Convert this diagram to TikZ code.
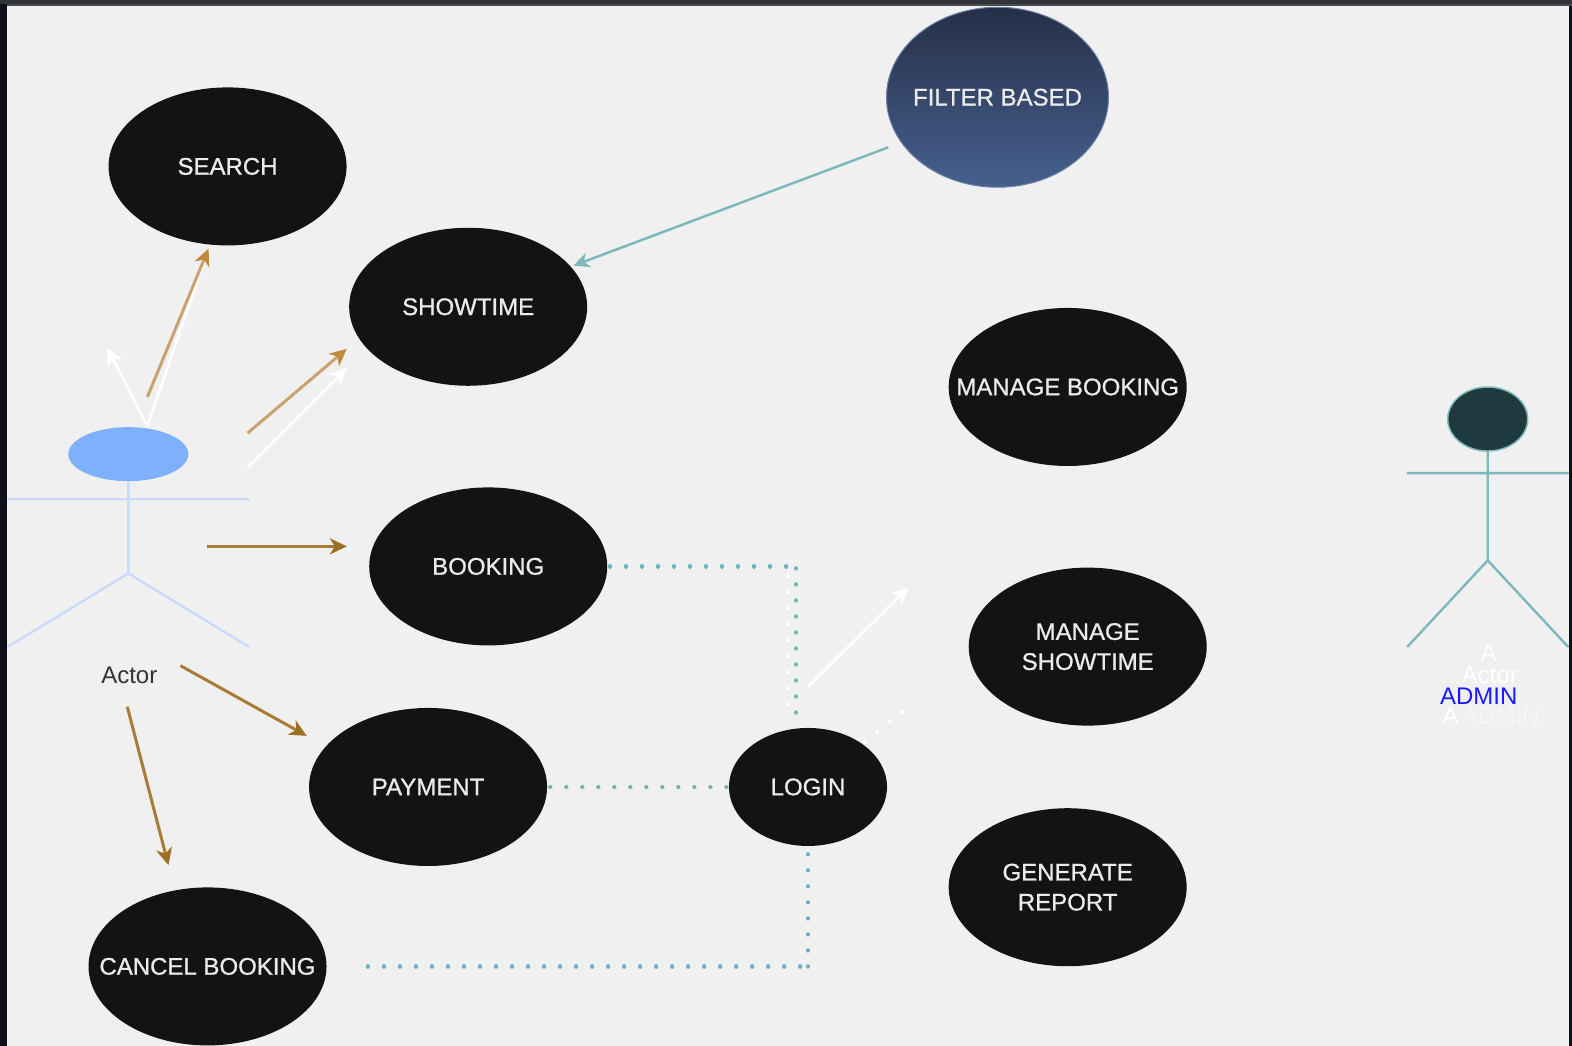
\documentclass[tikz,border=0pt]{standalone}
\usepackage{fontspec}
\setmainfont{Liberation Sans}
\usetikzlibrary{shapes.geometric,arrows.meta}
\definecolor{pagebg}{HTML}{F0F0F0}
\definecolor{darkedge}{HTML}{0D1117}
\definecolor{ucfill}{HTML}{131313}
\definecolor{tealline}{HTML}{7DB8BC}
\definecolor{tealdot}{HTML}{6FB3BA}
\definecolor{tanA}{HTML}{C9A36F}
\definecolor{tanAhead}{HTML}{BF8A3C}
\definecolor{tanB}{HTML}{A87C34}
\definecolor{tanBhead}{HTML}{9C6F22}
\definecolor{actorline}{HTML}{CADAFC}
\definecolor{actorheadc}{HTML}{7EB0FB}
\definecolor{adminheadc}{HTML}{1F3A3F}
\definecolor{filtertop}{HTML}{262F47}
\definecolor{filterbot}{HTML}{46608F}
\newfontfamily\ucfamily[BoldFont={Liberation Sans},BoldFeatures={FakeBold=0.9}]{Liberation Sans}
\begin{document}
\begin{tikzpicture}[x=1.0025pt,y=-1.0025pt,
  ucfont/.style={font=\fontsize{24}{30}\ucfamily\bfseries},
  usecase/.style={ellipse,fill=ucfill,text=white!92!black,inner ysep=0pt,inner xsep=-45pt,minimum width=238pt,minimum height=158pt,align=center,ucfont},
  teal arrow/.style={draw=tealline,line width=2.5pt,-{Stealth[length=16pt,width=15pt,inset=5pt]}},
  tan arrow/.style={line width=3pt,-{Stealth[length=17pt,width=16pt,inset=5pt]}},
  white arrow/.style={draw=white,line width=2.6pt,-{Stealth[length=17pt,width=16pt,inset=5pt]}},
  dotted teal/.style={draw=tealdot,line width=4.4pt,line cap=round,dash pattern=on 0.01pt off 16pt},
  dotted white/.style={draw=white,line width=4pt,line cap=round,dash pattern=on 0.01pt off 16pt},
  stick/.style={line width=2.4pt,line cap=round},
  ghost/.style={text=white,inner sep=0pt,font=\fontsize{24}{24}\selectfont}]
\useasboundingbox (0,0) rectangle (1568.08,1043.39);
\fill[pagebg] (0,0) rectangle (1568.08,1043.39);
\fill[darkedge] (0,0) rectangle (7,1043.39);
\fill[darkedge] (1565,0) rectangle (1568.08,1043.39);
\fill[darkedge!85!white] (0,0) rectangle (1568.08,4);
\fill[black!70!white] (7,4) rectangle (1568.08,6);

% actor
\draw[stick,actorline] (128,481) -- (128,572) (8,498) -- (248,498) (8,645) -- (128,572) -- (248,645);
\node[ellipse,fill=actorheadc,minimum width=120pt,minimum height=54pt,inner sep=0pt] (actorhead) at (128,453) {};
\node[inner sep=0pt,text=black!80,font=\fontsize{24}{24}\selectfont] (actorlabel) at (129,674) {Actor};

% admin
\draw[stick,tealline] (1484,450) -- (1484,559) (1404,472) -- (1564,472) (1404,645) -- (1484,559) -- (1564,645);
\node[ellipse,fill=adminheadc,draw=tealline,line width=1.5pt,minimum width=80pt,minimum height=64pt,inner sep=0pt] (adminhead) at (1484,418) {};
\node[ghost] (gA) at (1485,652) {A};
\node[ghost] (gActor) at (1486,674) {Actor};
\node[ghost] (gB) at (1447,714) {A};
\node[ghost,text=white!40!pagebg] (gAdmin) at (1497,714) {ADMIN};
\node[inner sep=0pt,text=blue!90!white,font=\fontsize{24}{24}\selectfont] (adminlabel) at (1475,695) {ADMIN};

% use cases
\node[usecase] (search) at (227,166) {SEARCH};
\node[usecase] (showtime) at (467,306) {SHOWTIME};
\node[usecase] (booking) at (487,565) {BOOKING};
\node[usecase] (payment) at (427,785) {PAYMENT};
\node[usecase] (cancel) at (207,964) {CANCEL BOOKING};
\node[usecase,minimum width=158pt,minimum height=118pt] (login) at (806,785) {LOGIN};
\node[usecase] (mbook) at (1065,386) {MANAGE BOOKING};
\node[usecase] (mshow) at (1085,645) {MANAGE\\SHOWTIME};
\node[usecase] (report) at (1065,885) {GENERATE\\REPORT};
\node[ellipse,top color=filtertop,bottom color=filterbot,draw=filterbot!80!white,line width=1pt,minimum width=222pt,minimum height=180pt,inner ysep=0pt,inner xsep=-45pt,text=white!92!black,ucfont] (filter) at (995,97) {FILTER BASED};

% free ends
\coordinate (a1) at (147,396); \coordinate (a1e) at (208,248);
\coordinate (w0) at (147,425); \coordinate (w1e) at (107,347); \coordinate (w2e) at (208,248);
\coordinate (a2) at (247,432); \coordinate (a2e) at (346,348);
\coordinate (w3) at (247,466); \coordinate (w3e) at (346,367);
\coordinate (a3) at (206,545); \coordinate (a3e) at (346,545);
\coordinate (a4) at (180,664); \coordinate (a4e) at (306,734);
\coordinate (a5) at (127,705); \coordinate (a5e) at (168,863);
\coordinate (f1) at (886,147); \coordinate (f1e) at (572,265);
\coordinate (c1) at (794,565); \coordinate (c1b) at (794,567); \coordinate (c1e) at (794,726);
\coordinate (c2) at (806,964); \coordinate (c2e) at (367,964);
\coordinate (w4) at (786,575); \coordinate (w4e) at (786,704);
\coordinate (w5) at (806,685); \coordinate (w5e) at (906,586);
\coordinate (w6) at (900,710); \coordinate (w6e) at (862,740);

% connectors
\draw[white arrow] (w0) -- (w1e);
\draw[white arrow] (w0) -- (w2e);
\draw[tan arrow,draw=tanA,-{Stealth[length=17pt,width=16pt,inset=5pt,color=tanAhead]}] (a1) -- (a1e);
\draw[tan arrow,draw=tanA,-{Stealth[length=17pt,width=16pt,inset=5pt,color=tanAhead]}] (a2) -- (a2e);
\draw[white arrow] (w3) -- (w3e);
\draw[tan arrow,draw=tanB,-{Stealth[length=17pt,width=16pt,inset=5pt,color=tanBhead]}] (a3) -- (a3e);
\draw[tan arrow,draw=tanB,-{Stealth[length=17pt,width=16pt,inset=5pt,color=tanBhead]}] (a4) -- (a4e);
\draw[tan arrow,draw=tanB,-{Stealth[length=17pt,width=16pt,inset=5pt,color=tanBhead]}] (a5) -- (a5e);
\draw[teal arrow] (f1) -- (f1e);
\draw[white arrow] (w5) -- (w5e);
\draw[dotted white] (w4) -- (w4e);
\draw[dotted white] (w6) -- (w6e);
\draw[dotted teal,dash phase=13.5pt] (booking.east) -- (c1);
\draw[dotted teal] (c1b) -- (c1e);
\draw[dotted teal,dash phase=13pt] (payment.east) -- (login.west);
\draw[dotted teal] (c2e) -- (c2);
\draw[dotted teal] (c2) -- (login.south);
\end{tikzpicture}
\end{document}
